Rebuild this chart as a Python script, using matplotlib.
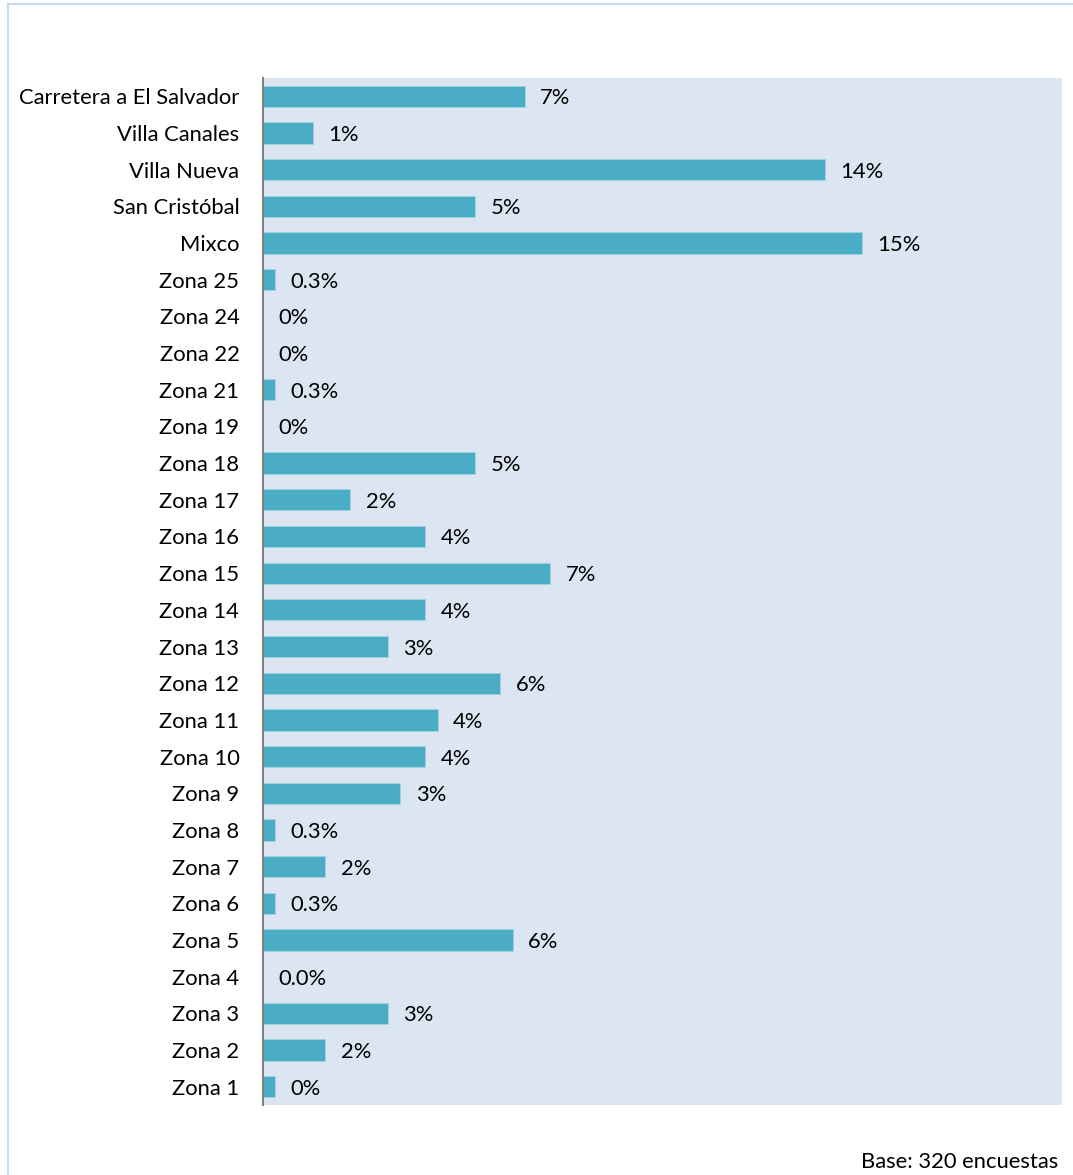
import matplotlib
matplotlib.use("Agg")
import matplotlib.pyplot as plt

categories = [
    "Carretera a El Salvador", "Villa Canales", "Villa Nueva", "San Cristóbal",
    "Mixco", "Zona 25", "Zona 24", "Zona 22", "Zona 21", "Zona 19", "Zona 18",
    "Zona 17", "Zona 16", "Zona 15", "Zona 14", "Zona 13", "Zona 12", "Zona 11",
    "Zona 10", "Zona 9", "Zona 8", "Zona 7", "Zona 6", "Zona 5", "Zona 4",
    "Zona 3", "Zona 2", "Zona 1",
]
values = [
    6.56, 1.25, 14.06, 5.31, 15.0, 0.31, 0.0, 0.0, 0.31, 0.0, 5.31,
    2.19, 4.06, 7.19, 4.06, 3.13, 5.94, 4.38, 4.06, 3.44, 0.31, 1.56,
    0.31, 6.25, 0.0, 3.13, 1.56, 0.31,
]
value_labels = [
    "7%", "1%", "14%", "5%", "15%", "0.3%", "0%", "0%", "0.3%", "0%", "5%",
    "2%", "4%", "7%", "4%", "3%", "6%", "4%", "4%", "3%", "0.3%", "2%",
    "0.3%", "6%", "0.0%", "3%", "2%", "0%",
]

plt.rcParams["font.family"] = ["Lato", "DejaVu Sans"]

W, H = 1073, 1175
fig = plt.figure(figsize=(W / 100, H / 100), dpi=100)

# light frame around the chart (only left and top edges visible)
fig.add_artist(plt.Line2D([8 / W, 8 / W], [0, 1 - 4 / H], color="#C6D9F1", lw=1.5))
fig.add_artist(plt.Line2D([8 / W, 1], [1 - 4 / H, 1 - 4 / H], color="#C6D9F1", lw=1.5))

left, right, top, bottom = 263, 1062, 78, 1105
ax = fig.add_axes([left / W, 1 - bottom / H, (right - left) / W, (bottom - top) / H])
ax.set_facecolor("#DCE6F2")

fs = 15.8
y = list(range(len(categories)))
ax.barh(y, values, height=0.58, color="#4BACC6", edgecolor="#9FD3E0", linewidth=0.6)
ax.set_xlim(0, 20)
ax.set_ylim(len(categories) - 0.5, -0.5)

for yi, v, lab in zip(y, values, value_labels):
    ax.text(v + 0.38, yi, lab, va="center_baseline", ha="left", fontsize=fs, color="black")

ax.set_yticks(y)
ax.set_yticklabels(categories, fontsize=fs, va="center_baseline")
ax.tick_params(axis="y", length=0, pad=17)
ax.set_xticks([])
for s in ["top", "right", "bottom"]:
    ax.spines[s].set_visible(False)
ax.spines["left"].set_color("#808080")
ax.spines["left"].set_linewidth(1.5)

fig.text(1058 / W, 1 - 1162 / H, "Base: 320 encuestas", ha="right", va="center", fontsize=fs)

fig.savefig("out.png", dpi=100)
